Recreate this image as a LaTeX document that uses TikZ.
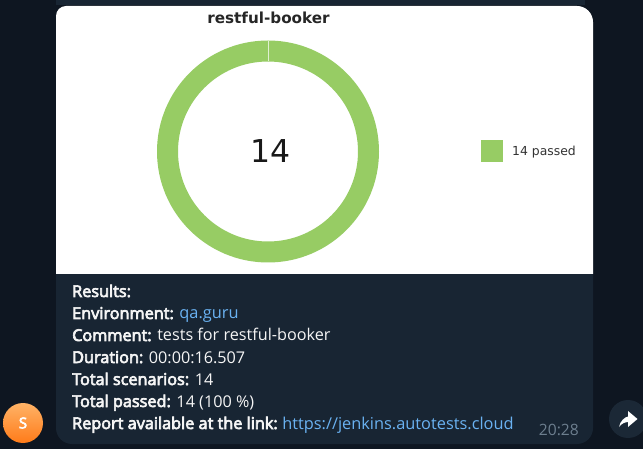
\documentclass[tikz,border=0pt]{standalone}
\usepackage{fontspec}
\setmainfont{Open Sans}
\newfontfamily\semib[FakeBold=4]{Open Sans}
\newfontfamily\dejavu{DejaVu Sans}
\definecolor{bg}{HTML}{0E1621}
\definecolor{bubble}{HTML}{182533}
\definecolor{linkc}{HTML}{6AB2F2}
\definecolor{ringc}{HTML}{97CC64}
\definecolor{timec}{HTML}{6D7F8F}
\definecolor{shareb}{HTML}{1B2836}
\definecolor{txt}{HTML}{F5F5F5}
\tikzset{
  line/.style={anchor=base west,inner sep=0pt,font=\fontsize{16.2}{16}\selectfont,text=txt},
}
\newcommand{\lnk}[1]{\textcolor{linkc}{\fontsize{16.35}{16}\selectfont #1}}
\newcommand{\lbl}[1]{{\semib\fontsize{16.25}{16}\selectfont #1}}
\begin{document}
\begin{tikzpicture}[x=1pt,y=-1pt]
\useasboundingbox (0,0) rectangle (643,449);
\fill[bg] (0,0) rectangle (643,449);
% previous bubble strip
\fill[bubble] (56,0) rectangle (585,5) ;
% message bubble
\fill[bubble,rounded corners=16pt] (56,40) rectangle (593,444);
\fill[white] (56,274) -- (56,16) arc[start angle=180,end angle=270,radius=10] -- (577,6) arc[start angle=270,end angle=360,radius=16] -- (593,274) -- cycle;
% ring
\fill[ringc,even odd rule] (268,151.5) circle[radius=111] (268,151.5) circle[radius=90];
\draw[white!70!ringc,line width=1pt] (268,41) -- (268,61);
\node[inner sep=0pt,font=\dejavu\bfseries\fontsize{15.2}{15}\selectfont,text=black!85] (title) at (268.5,18) {restful-booker};
\node[inner sep=0pt,font=\dejavu\fontsize{31.5}{31}\selectfont,text=black!90] (count) at (270.5,151) {14};
\fill[ringc] (481,140) rectangle (503,162);
\node[anchor=west,inner sep=0pt,font=\dejavu\fontsize{12.4}{12}\selectfont,text=black!80] (legend) at (512,152.5) {14 passed};
% text
\node[line] (l1) at (72,297) {\lbl{Results:}};
\node[line] (l2) at (72,319) {\lbl{Environment:} \lnk{qa.guru}};
\node[line] (l3) at (72,341) {\lbl{Comment:} tests for restful-booker};
\node[line] (l4) at (72,363) {\lbl{Duration:} 00:00:16.507};
\node[line] (l5) at (72,385) {\lbl{Total scenarios:} 14};
\node[line] (l6) at (72,407) {\lbl{Total passed:} 14 (100 \%)};
\node[line] (l7) at (72,429) {\lbl{Report available at the link:}\hspace{-1pt} \lnk{https://jenkins.autotests.cloud}};
\node[anchor=base east,inner sep=0pt,font=\fontsize{15.6}{15}\selectfont,text=timec] (time) at (579,435) {20:28};
% avatar
\shade[bottom color=orange!85!red!90!white,top color=orange!60!white] (23,423) circle[radius=20];
\node[inner sep=0pt,text=white,font=\semib\fontsize{15}{15}\selectfont] (s) at (23,423) {S};
% share
\fill[shareb] (628,419) circle[radius=19];
\fill[white] (619,427) .. controls (620,421) and (625,417) .. (628,416.5) -- (628,411) -- (637.5,419) -- (628,427) -- (628,422) .. controls (625,422) and (621,424) .. (619,427) -- cycle;
\end{tikzpicture}
\end{document}
